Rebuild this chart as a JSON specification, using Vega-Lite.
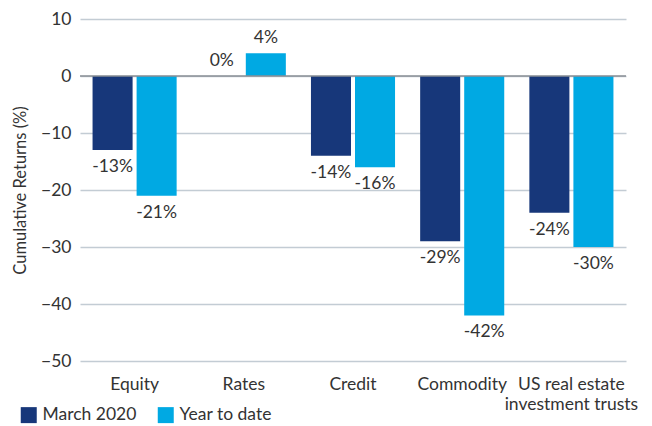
{
  "$schema": "https://vega.github.io/schema/vega-lite/v6.json",
  "width": 546,
  "height": 342,
  "autosize": "none",
  "padding": {"left": 80, "top": 19, "right": 26, "bottom": 65},
  "background": "white",
  "config": {
    "font": "Lato",
    "view": {"stroke": null},
    "axis": {"labelFont": "Lato", "titleFont": "Lato"}
  },
  "data": {
    "values": [
      {"category": "Equity", "period": "March 2020", "value": -13, "label": "-13%"},
      {"category": "Equity", "period": "Year to date", "value": -21, "label": "-21%"},
      {"category": "Rates", "period": "March 2020", "value": 0, "label": "0%"},
      {"category": "Rates", "period": "Year to date", "value": 4, "label": "4%"},
      {"category": "Credit", "period": "March 2020", "value": -14, "label": "-14%"},
      {"category": "Credit", "period": "Year to date", "value": -16, "label": "-16%"},
      {"category": "Commodity", "period": "March 2020", "value": -29, "label": "-29%"},
      {"category": "Commodity", "period": "Year to date", "value": -42, "label": "-42%"},
      {"category": "US real estate investment trusts", "period": "March 2020", "value": -24, "label": "-24%"},
      {"category": "US real estate investment trusts", "period": "Year to date", "value": -30, "label": "-30%"}
    ]
  },
  "layer": [
    {
      "mark": {"type": "bar"},
      "encoding": {
        "x": {
          "field": "category",
          "type": "nominal",
          "sort": ["Equity", "Rates", "Credit", "Commodity", "US real estate investment trusts"],
          "scale": {"paddingInner": 0.23, "paddingOuter": 0.115},
          "axis": {
            "title": null,
            "labelAngle": 0,
            "domain": false,
            "ticks": false,
            "labelFontSize": 17.5,
            "labelColor": "#333333",
            "labelPadding": 14,
            "labelBaseline": "top",
            "labelLineHeight": 20,
            "labelExpr": "datum.value == 'US real estate investment trusts' ? ['US real estate', 'investment trusts'] : datum.value"
          }
        },
        "xOffset": {
          "field": "period",
          "type": "nominal",
          "scale": {"paddingInner": 0.0909, "paddingOuter": 0}
        },
        "y": {
          "field": "value",
          "type": "quantitative",
          "scale": {"domain": [-50, 10], "nice": false},
          "axis": {
            "title": "Cumulative Returns (%)",
            "titleFontSize": 16.5,
            "titleFontWeight": "normal",
            "titleColor": "#333333",
            "titlePadding": 12,
            "values": [-50, -40, -30, -20, -10, 0, 10],
            "domain": false,
            "ticks": false,
            "labelFontSize": 17.5,
            "labelColor": "#333333",
            "labelPadding": 9,
            "gridColor": "#c3ccd4",
            "gridWidth": 1.5
          }
        },
        "color": {
          "field": "period",
          "type": "nominal",
          "scale": {"domain": ["March 2020", "Year to date"], "range": ["#17377a", "#00a9e3"]},
          "legend": {
            "title": null,
            "orient": "none",
            "direction": "horizontal",
            "legendX": -60,
            "legendY": 387,
            "symbolType": "square",
            "symbolSize": 256,
            "symbolStrokeWidth": 0,
            "symbolOpacity": 1,
            "labelFontSize": 17.5,
            "labelColor": "#333333",
            "labelOffset": 5,
            "columnPadding": 20
          }
        }
      }
    },
    {
      "mark": {"type": "rule", "color": "#8a8f96", "strokeWidth": 1.5},
      "data": {"values": [{"zero": 0}]},
      "encoding": {"y": {"field": "zero", "type": "quantitative"}}
    },
    {
      "transform": [{"filter": "datum.value < 0"}],
      "mark": {"type": "text", "baseline": "top", "dy": 8, "fontSize": 17.5, "color": "#333333"},
      "encoding": {
        "x": {"field": "category", "type": "nominal", "sort": ["Equity", "Rates", "Credit", "Commodity", "US real estate investment trusts"]},
        "xOffset": {"field": "period", "type": "nominal"},
        "y": {"field": "value", "type": "quantitative"},
        "text": {"field": "label", "type": "nominal"}
      }
    },
    {
      "transform": [{"filter": "datum.value >= 0"}],
      "mark": {"type": "text", "baseline": "bottom", "dy": -6, "fontSize": 17.5, "color": "#333333"},
      "encoding": {
        "x": {"field": "category", "type": "nominal", "sort": ["Equity", "Rates", "Credit", "Commodity", "US real estate investment trusts"]},
        "xOffset": {"field": "period", "type": "nominal"},
        "y": {"field": "value", "type": "quantitative"},
        "text": {"field": "label", "type": "nominal"}
      }
    }
  ]
}
